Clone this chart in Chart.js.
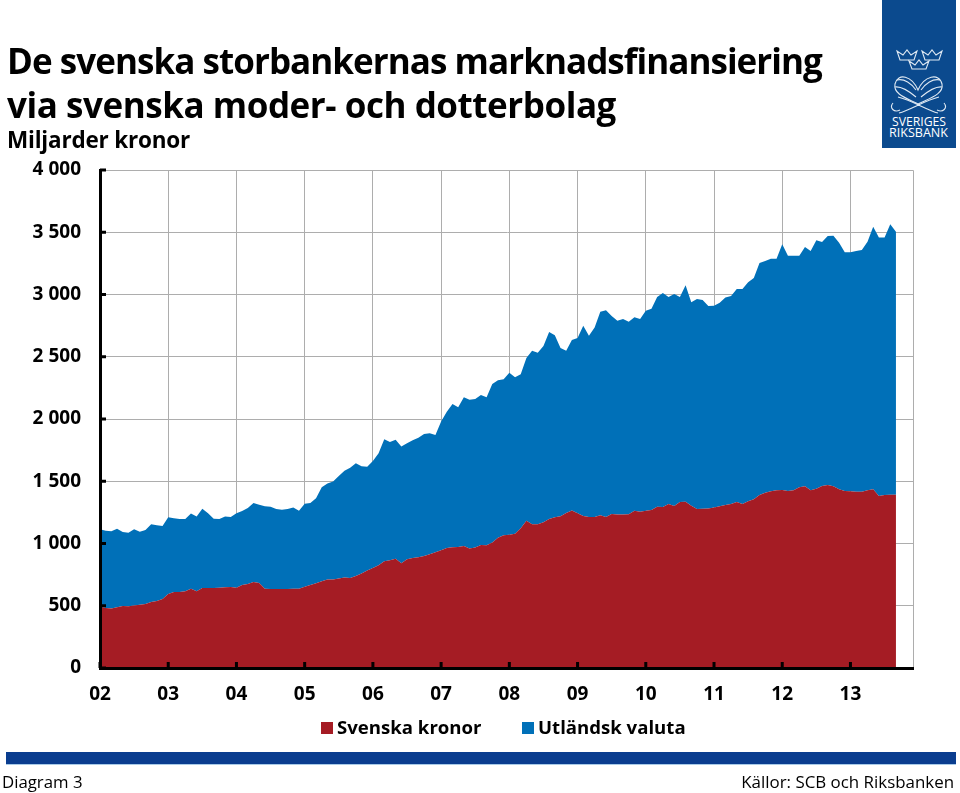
<!DOCTYPE html>
<html lang="sv">
<head>
<meta charset="utf-8">
<title>Diagram 3</title>
<script src="https://cdn.jsdelivr.net/npm/chart.js@4"></script>
<style>
html,body{margin:0;padding:0;background:#fff;width:960px;height:793px;overflow:hidden;font-family:"Open Sans",sans-serif;color:#000}
.t{position:absolute;white-space:nowrap}
#chart{position:absolute;left:0;top:0}
.k{position:absolute;width:12px;height:12px}
</style>
</head>
<body>
<canvas id="chart" width="960" height="793" style="width:960px;height:793px"></canvas>
<div class="t" style="left:7px;top:38px;font-size:35px;font-weight:700;line-height:46px;letter-spacing:-.95px">De svenska storbankernas marknadsfinansiering</div>
<div class="t" style="left:7px;top:82px;font-size:35px;font-weight:700;line-height:46px;letter-spacing:-.45px">via svenska moder- och dotterbolag</div>
<div class="t" style="left:7px;top:125px;font-size:22.5px;font-weight:700;line-height:30px;letter-spacing:-.2px">Miljarder kronor</div>
<svg class="t" style="left:882px;top:0" width="74" height="148" viewBox="0 0 74 148">
<rect width="74" height="148" fill="#0b4a8e"/>
<g fill="none" stroke="#dfe9f3" stroke-width="1.1">
<path d="M15 51 L18 60 H32 L35 51 L29 55 L25 50 L21 55 Z"/>
<path d="M40 51 L43 60 H57 L60 51 L54 55 L50 50 L46 55 Z"/>
<path d="M27 61 L30 69 H44 L47 61 L41 65 L37 60 L33 65 Z"/>
<path d="M36 90 C30 76 16 72 13 84 C11 94 24 98 36 104 C48 98 62 94 60 84 C57 72 42 76 36 90 Z"/>
<path d="M15 80 C22 78 30 84 34 90 M13 87 C20 86 28 92 34 97 M58 80 C51 78 43 84 39 90 M60 87 C53 86 45 92 39 97"/>
<path d="M17 113 C28 110 44 100 57 97 M56 113 C45 110 29 100 16 97 M11 103 C7 108 12 113 18 110 M62 103 C66 108 61 113 55 110"/>
</g>
<text x="10" y="126" textLength="54" lengthAdjust="spacingAndGlyphs" fill="#fff" font-family="Open Sans" font-size="12.6">SVERIGES</text>
<text x="7" y="137" textLength="59" lengthAdjust="spacingAndGlyphs" fill="#fff" font-family="Open Sans" font-size="12.6">RIKSBANK</text>
</svg>
<div class="k" style="left:321px;top:722px;background:#a51c24"></div>
<div class="t" style="left:337px;top:714px;font-size:18.6px;font-weight:700;line-height:26px">Svenska kronor</div>
<div class="k" style="left:522px;top:722px;background:#0070b8"></div>
<div class="t" style="left:538px;top:714px;font-size:18.6px;font-weight:700;line-height:26px">Utländsk valuta</div>
<div style="position:absolute;left:6px;top:752px;width:950px;height:12px;background:#0a3d8f;border-bottom:1px solid #a9cbe8"></div>
<div class="t" style="left:2px;top:770px;font-size:16.8px;line-height:24px">Diagram 3</div>
<div class="t" style="right:6px;top:770px;font-size:16.9px;line-height:24px">Källor: SCB och Riksbanken</div>
<script>
const yearLabels = ['02','03','04','05','06','07','08','09','10','11','12','13'];
const monthNames = ['jan','feb','mar','apr','maj','jun','jul','aug','sep','okt','nov','dec'];
const yTickLabels = ['0','500','1 000','1 500','2 000','2 500','3 000','3 500','4 000'];
const svenskaKronor = [
493,482,477,487,498,495,503,509,514,530,538,554,
594,610,610,616,637,616,643,643,643,645,648,651,
645,667,675,691,683,637,635,635,635,635,637,637,
653,667,680,696,710,710,718,726,723,739,760,784,
803,825,857,865,878,841,873,884,889,900,913,929,
945,964,969,972,980,959,967,988,985,1009,1047,1066,
1071,1079,1122,1183,1154,1154,1170,1197,1210,1218,1245,1266,
1242,1221,1213,1213,1226,1213,1237,1232,1232,1234,1264,1256,
1264,1269,1296,1293,1317,1301,1333,1336,1304,1277,1280,1282,
1290,1299,1309,1317,1333,1317,1339,1355,1390,1408,1419,1427,
1430,1422,1427,1451,1459,1427,1440,1462,1470,1459,1435,1422,
1419,1416,1416,1427,1435,1382,1390,1392,1392];
const utlandskValuta = [
621,621,621,632,594,592,611,586,594,624,608,587,
616,592,587,581,603,600,637,599,556,552,568,562,
597,594,610,634,629,662,661,642,637,642,653,627,
667,658,683,755,771,787,824,859,886,905,860,833,
860,899,980,950,956,939,932,945,961,980,972,942,
1034,1095,1151,1122,1194,1196,1194,1205,1189,1272,1264,1253,
1301,1256,1237,1307,1395,1379,1416,1502,1462,1352,1304,1369,
1409,1529,1456,1521,1636,1660,1590,1558,1571,1548,1553,1547,
1606,1617,1684,1719,1663,1703,1647,1738,1633,1687,1676,1626,
1620,1635,1666,1671,1711,1727,1759,1778,1863,1861,1869,1861,
1973,1890,1885,1861,1922,1922,1995,1960,2000,2013,1981,1917,
1920,1933,1941,1997,2110,2075,2067,2172,2113];
const months = yearLabels.flatMap(y => monthNames.map(m => m + ' ' + y));

const tickFont = {family:'"Open Sans"', size:19, weight:'700'};
const gridColor = '#adadad';
const innerTicks = {
  id:'innerTicks',
  afterDatasetsDraw(chart){
    const {ctx, scales:{x,y}, chartArea:a} = chart;
    ctx.save();
    ctx.strokeStyle = '#000';
    ctx.lineWidth = 3;
    ctx.beginPath();
    y.ticks.forEach(t => { const p = y.getPixelForValue(t.value); ctx.moveTo(a.left, p); ctx.lineTo(a.left + 6, p); });
    yearLabels.forEach((_, i) => { const p = x.getPixelForValue(i * 12); ctx.moveTo(p, a.bottom); ctx.lineTo(p, a.bottom - 6); });
    ctx.stroke();
    ctx.restore();
  },
  beforeDatasetsDraw(chart){
    const {ctx, chartArea:a} = chart;
    ctx.save();
    ctx.strokeStyle = gridColor;
    ctx.lineWidth = 1;
    ctx.beginPath();
    ctx.moveTo(a.left, a.top + .5); ctx.lineTo(a.right + .5, a.top + .5); ctx.lineTo(a.right + .5, a.bottom);
    ctx.stroke();
    ctx.restore();
  }
};

new Chart(document.getElementById('chart'), {
  type:'line',
  plugins:[innerTicks],
  data:{
    labels:months,
    datasets:[
      {label:'Svenska kronor', data:svenskaKronor, backgroundColor:'#a51c24', borderColor:'#a51c24', borderWidth:0, pointRadius:0, tension:0, fill:'origin'},
      {label:'Utländsk valuta', data:utlandskValuta, backgroundColor:'#0070b8', borderColor:'#0070b8', borderWidth:0, pointRadius:0, tension:0, fill:'-1'}
    ]
  },
  options:{
    responsive:false,
    animation:false,
    layout:{padding:{left:0,right:47,top:170,bottom:0}},
    plugins:{
      tooltip:{enabled:false},
      title:{display:false},
      legend:{display:false}
    },
    scales:{
      x:{
        type:'category',
        offset:false,
        afterFit(s){ s.height = 125; },
        grid:{color:gridColor, lineWidth:1, drawTicks:false},
        border:{color:'#000', width:3, z:1},
        ticks:{
          color:'#000', font:tickFont, autoSkip:false, maxRotation:0, padding:15,
          callback(v, i){ return i % 12 === 0 ? yearLabels[i / 12] : null; }
        }
      },
      y:{
        stacked:true,
        min:0,max:4000,
        afterFit(s){ s.width = 100; },
        grid:{color:gridColor, lineWidth:1, drawTicks:false},
        border:{color:'#000', width:3, z:1},
        ticks:{
          color:'#000', font:tickFont, stepSize:500, padding:19,
          callback(v){ return yTickLabels[v / 500]; }
        }
      }
    }
  }
});
</script>
</body>
</html>
